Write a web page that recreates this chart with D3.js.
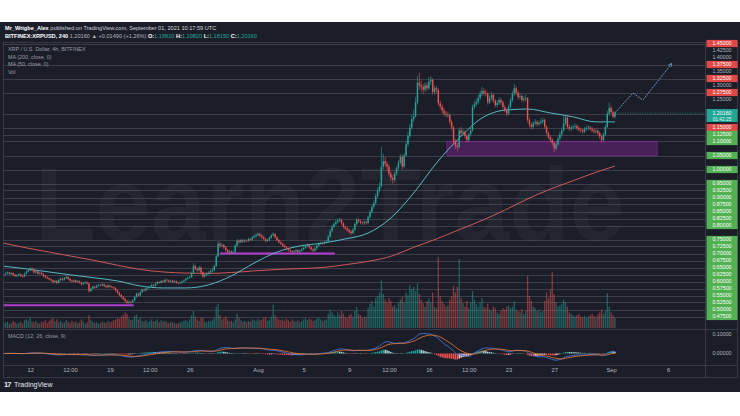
<!DOCTYPE html>
<html><head><meta charset="utf-8">
<script src="https://cdn.jsdelivr.net/npm/d3@7"></script>
<style>
html,body{margin:0;padding:0;background:#fff;}
svg{display:block;font-family:"Liberation Sans",Arial,sans-serif;}
</style></head><body>
<svg id="c" width="740" height="416"></svg>
<script>
// ---------- DATA ----------
const startTime = Date.UTC(2021,6,9,16);   // first 4h candle
const firstOpen = 0.622;
const closes = [
.625,.628,
.632,.627,.630,.624,.619,.622, .626,.620,.618,.628,.635,.640, .646,.641,.632,.636,.628,.631,
.627,.620,.615,.612,.608,.604, .598,.602,.595,.605,.610,.606, .612,.616,.609,.603,.600,.604,
.598,.601,.596,.590,.594,.597, .593,.566,.575,.582,.578,.585, .588,.586,.590,.584,.580,.586,
.582,.579,.576,.568,.560,.552, .545,.538,.530,.524,.528,.526, .532,.545,.556,.550,.562,.571,
.568,.575,.579,.582,.588,.585, .592,.598,.596,.602,.599,.606, .604,.600,.603,.598,.601,.596,
.594,.596,.600,.604,.610,.614, .616,.630,.655,.645,.640,.650, .632,.618,.624,.628,.632,.638,
.640,.655,.690,.735,.728,.730, .722,.712,.705,.708,.702,.706, .728,.745,.740,.748,.743,.746,
.745,.752,.749,.758,.762,.766,
.770,.764,.758,.752,.745,.748, .756,.765,.770,.758,.748,.740, .735,.728,.723,.718,.712,.708,
.705,.708,.712,.706,.710,.715, .720,.726,.730,.722,.715,.710, .718,.728,.735,.738,.736,.740,
.742,.760,.780,.795,.805,.812, .818,.820,.808,.795,.790,.784, .778,.773,.785,.805,.820,.815,
.810,.808,.812,.809,.830,.848, .866,.880,.905,.925,.940,1.010, 1.030,1.020,1.010,.985,.970,.963,
.985,1.005,1.025,1.045,1.010,1.050, 1.090,1.120,1.150,1.180,1.190,1.240, 1.310,1.300,1.295,1.285,1.300,1.290,
1.315,1.320,1.277,1.290,1.284,1.237, 1.225,1.210,1.200,1.195,1.195,1.170, 1.150,1.100,1.085,1.080,1.140,1.130,
1.134,1.120,1.105,1.125,1.140,1.223, 1.232,1.240,1.255,1.270,1.280,1.273, 1.270,1.240,1.255,1.266,1.245,1.230,
1.238,1.248,1.240,1.223,1.212,1.200, 1.225,1.248,1.270,1.290,1.275,1.259, 1.262,1.248,1.252,1.255,1.177,1.160,
1.152,1.165,1.170,1.162,1.166,1.172, 1.177,1.152,1.130,1.116,1.105,1.095, 1.075,1.090,1.110,1.125,1.140,1.165,
1.185,1.152,1.145,1.150,1.152,1.155, 1.148,1.142,1.140,1.135,1.145,1.148, 1.150,1.145,1.140,1.136,1.138,1.130,
1.118,1.105,1.125,1.152,1.200,1.220,
1.205,1.1881,1.2016];
const highs = [
.629,.633,
.636,.635,.634,.633,.627,.626, .630,.629,.624,.631,.639,.645, .652,.650,.644,.640,.639,.635,
.634,.630,.623,.619,.615,.611, .607,.606,.605,.609,.615,.614, .616,.621,.619,.612,.606,.608,
.607,.605,.604,.599,.598,.601, .600,.595,.579,.586,.585,.589, .592,.591,.594,.593,.587,.590,
.589,.585,.582,.579,.571,.563, .555,.548,.541,.533,.532,.531, .536,.549,.561,.560,.566,.575,
.575,.579,.583,.586,.592,.591, .596,.602,.601,.606,.605,.610, .610,.607,.607,.606,.605,.604,
.599,.600,.604,.608,.614,.618, .621,.636,.665,.660,.650,.656, .653,.636,.629,.633,.637,.643,
.646,.660,.696,.745,.742,.738, .734,.726,.716,.713,.711,.711, .733,.752,.750,.753,.752,.751,
.750,.757,.756,.763,.767,.772,
.776,.774,.768,.762,.756,.753, .761,.770,.776,.773,.762,.752, .744,.739,.732,.727,.722,.716,
.712,.712,.716,.715,.714,.719, .725,.731,.735,.733,.726,.719, .723,.733,.740,.743,.742,.745,
.748,.766,.786,.802,.812,.822, .826,.828,.824,.812,.800,.795, .789,.783,.790,.812,.828,.826,
.821,.816,.818,.817,.836,.856, .875,.890,.915,.936,.955,1.080, 1.055,1.045,1.030,1.018,.992,.980,
.992,1.012,1.034,1.055,1.052,1.060, 1.102,1.135,1.162,1.195,1.215,1.260, 1.335,1.345,1.318,1.305,1.312,1.310,
1.330,1.333,1.326,1.300,1.298,1.290, 1.246,1.233,1.220,1.210,1.206,1.200, 1.178,1.156,1.110,1.095,1.150,1.152,
1.146,1.140,1.126,1.132,1.150,1.232, 1.245,1.252,1.266,1.282,1.295,1.290, 1.284,1.276,1.264,1.276,1.272,1.252,
1.248,1.258,1.256,1.246,1.230,1.218, 1.232,1.256,1.282,1.305,1.298,1.282, 1.272,1.268,1.262,1.268,1.258,1.185,
1.168,1.172,1.180,1.176,1.174,1.182, 1.186,1.182,1.158,1.136,1.122,1.112, 1.100,1.098,1.118,1.134,1.150,1.190,
1.195,1.190,1.160,1.158,1.160,1.164, 1.162,1.156,1.150,1.146,1.152,1.156, 1.158,1.156,1.152,1.148,1.146,1.144,
1.136,1.124,1.132,1.160,1.210,1.240,
1.228,1.212,1.2082];
const lows = [
.619,.622,
.625,.624,.623,.620,.615,.616, .619,.617,.613,.616,.625,.632, .637,.636,.628,.629,.624,.625,
.623,.616,.611,.608,.604,.600, .592,.594,.590,.593,.602,.602, .603,.609,.605,.599,.596,.597,
.594,.595,.592,.586,.587,.591, .589,.560,.563,.572,.574,.576, .582,.582,.583,.580,.576,.577,
.578,.575,.572,.564,.556,.548, .540,.533,.524,.518,.520,.521, .522,.529,.542,.546,.547,.558,
.564,.565,.571,.576,.579,.581, .582,.589,.592,.593,.595,.596, .600,.596,.597,.594,.595,.592,
.590,.591,.593,.597,.601,.607, .610,.613,.627,.640,.634,.636, .625,.612,.614,.620,.624,.628,
.633,.636,.652,.686,.720,.722, .716,.706,.699,.700,.697,.698, .703,.724,.735,.736,.738,.739,
.740,.741,.744,.745,.754,.758,
.762,.759,.753,.747,.740,.741, .744,.752,.761,.753,.743,.735, .730,.723,.718,.713,.707,.703,
.700,.701,.704,.702,.702,.706, .711,.716,.722,.717,.710,.705, .706,.714,.724,.731,.731,.732,
.735,.738,.756,.775,.790,.800, .807,.812,.802,.789,.784,.778, .771,.766,.769,.781,.800,.809,
.804,.802,.803,.803,.805,.825, .843,.860,.875,.898,.918,.935, 1.000,1.008,.995,.975,.958,.950,
.955,.978,.998,1.018,1.000,1.005, 1.045,1.082,1.112,1.142,1.170,1.185, 1.232,1.285,1.278,1.270,1.276,1.280,
1.284,1.302,1.268,1.268,1.272,1.228, 1.215,1.200,1.190,1.186,1.185,1.160, 1.140,1.090,1.072,1.065,1.075,1.120,
1.122,1.110,1.095,1.098,1.118,1.135, 1.215,1.225,1.232,1.248,1.262,1.264, 1.260,1.232,1.234,1.248,1.238,1.222,
1.222,1.230,1.232,1.215,1.204,1.190, 1.195,1.218,1.240,1.262,1.266,1.250, 1.250,1.240,1.240,1.244,1.168,1.150,
1.142,1.145,1.158,1.155,1.156,1.160, 1.165,1.145,1.122,1.108,1.096,1.085, 1.062,1.068,1.084,1.104,1.118,1.135,
1.158,1.145,1.138,1.138,1.142,1.145, 1.140,1.135,1.132,1.128,1.130,1.138, 1.140,1.138,1.132,1.128,1.128,1.122,
1.110,1.096,1.100,1.120,1.148,1.192,
1.198,1.184,1.1815];
const volumes = [
8,7,
9,6,7,10,8,6, 7,9,6,11,12,10, 15,9,8,10,7,6, 9,8,11,7,10,12, 14,9,12,8,10,7, 8,11,9,7,10,8,
9,7,8,12,9,6, 8,18,11,9,7,8, 6,7,9,8,7,10, 8,9,11,12,14,13, 16,18,22,20,13,11, 12,17,19,12,14,10,
9,11,8,10,12,9, 10,12,8,11,9,10, 8,7,9,8,7,6, 7,8,9,10,11,9, 12,18,24,16,12,10, 14,15,9,8,10,9,
11,14,30,34,18,12, 14,16,12,9,10,8, 12,20,14,11,9,10, 8,10,9,12,11,10,
13,11,12,14,15,10, 12,16,33,18,14,12, 11,12,10,13,11,9, 12,10,9,11,8,10, 12,14,11,13,12,10,
11,13,15,12,10,11, 12,20,26,22,18,16, 22,18,24,20,16,14, 18,20,16,24,30,20, 18,14,16,15,28,34,
38,30,42,45,50,67, 48,40,36,42,38,30, 32,28,36,40,44,36, 50,46,61,55,58,52, 63,48,40,35,30,38,
42,36,50,30,28,100, 45,38,34,30,32,40, 45,60,50,58,97,42, 35,30,38,28,36,52, 40,34,30,36,42,30,
28,34,26,24,30,28, 22,20,24,28,26,30, 32,28,30,38,26,24, 22,26,20,24,73,45, 38,30,28,24,26,22,
24,38,50,42,55,79, 48,36,30,32,34,40, 36,30,22,20,18,16, 18,20,16,15,17,14, 16,18,20,17,15,19,
22,26,20,24,49,30,
22,18,14];
// moving averages, read every 12 candles (plus the last)
const maIndex = [0,12,24,36,48,60,72,84,96,108,120,132,144,156,168,180,192,204,216,228,240,252,264,276,288,300,312,322];
const ma200 = [.737,.720,.705,.690,.675,.658,.643,.634,.630,.629,.632,.638,.643,.646,.650,.660,.672,.690,.722,.752,.785,.818,.855,.895,.930,.960,.990,1.012];
const ma50  = [.655,.645,.634,.623,.613,.602,.584,.577,.577,.588,.620,.666,.705,.727,.737,.752,.773,.827,.916,1.023,1.112,1.184,1.212,1.216,1.202,1.188,1.170,1.170];
// price-axis level labels (horizontal lines)
const levelValues = [1.45,1.425,1.40,1.375,1.35,1.325,1.30,1.275,1.25,1.15,1.125,1.10,1.05,1.00,
  0.95,0.925,0.90,0.875,0.85,0.825,0.80,
  0.75,0.725,0.70,0.675,0.65,0.625,0.60,0.575,0.55,0.525,0.50,0.475];
const levelKinds = ["red","plain","plain","red","plain","red","plain","red","plain","red","green","green","green","green",
  "green","green","green","green","green","green","green",
  "green","green","green","green","green","green","green","green","green","green","green","green"];
const lastPrice = 1.2016;
const countdown = "01:42:25";
// drawn zones
const zoneTimes = [Date.UTC(2021,7,17,14), Date.UTC(2021,8,5,1)];
const zonePrices = [1.05, 1.10];
const supportTimes = [[Date.UTC(2021,6,28,16), Date.UTC(2021,7,7,18)], [Date.UTC(2021,6,9,14), Date.UTC(2021,6,21,2)]];
const supportPrices = [0.70, 0.515];
// forecast path
const fcTimes = [Date.UTC(2021,8,1,8), Date.UTC(2021,8,2,22), Date.UTC(2021,8,3,19), Date.UTC(2021,8,6,7)];
const fcPrices = [1.2016, 1.273, 1.248, 1.377];
// time axis
const tickTimes = [Date.UTC(2021,6,12), Date.UTC(2021,6,15,12), Date.UTC(2021,6,19), Date.UTC(2021,6,22,12), Date.UTC(2021,6,26),
  Date.UTC(2021,7,1), Date.UTC(2021,7,5), Date.UTC(2021,7,9), Date.UTC(2021,7,12,12), Date.UTC(2021,7,16), Date.UTC(2021,7,19,12),
  Date.UTC(2021,7,23), Date.UTC(2021,7,27), Date.UTC(2021,8,1), Date.UTC(2021,8,6)];
const tickLabels = ["12","12:00","19","12:00","26","Aug","5","9","12:00","16","12:00","23","27","Sep","6"];
const macdTicks = [0.1, 0];

// ---------- LAYOUT ----------
const svg = d3.select("#c");
const W = 740;
const pane = {l:3, r:705, t:42, b:329};
const macdPane = {t:329, b:365};
const H4 = 4*3600*1000;
const tOf = i => new Date(startTime + i*H4);
const opens = closes.map((c,i)=> i===0 ? firstOpen : closes[i-1]);

const x = d3.scaleUtc().domain([new Date(Date.UTC(2021,7,1)), new Date(Date.UTC(2021,8,1))]).range([258, 611.1]);
const y = d3.scaleLinear().domain([1.0, 1.45]).range([169.5, 43.5]);
const yv = d3.scaleLinear().domain([0, 100]).range([328, 257]);
const ym = d3.scaleLinear().domain([0, 0.1]).range([353.5, 334]);

const UP = "#26a69a", DN = "#ef5350";

// background
svg.append("rect").attr("x",0).attr("y",22).attr("width",W).attr("height",370).attr("fill","#1b1e29");

const defs = svg.append("defs");
defs.append("clipPath").attr("id","pc").append("rect").attr("x",pane.l).attr("y",pane.t).attr("width",pane.r-pane.l).attr("height",pane.b-pane.t);
defs.append("clipPath").attr("id","mc").append("rect").attr("x",pane.l).attr("y",macdPane.t).attr("width",pane.r-pane.l).attr("height",macdPane.b-macdPane.t);
defs.append("marker").attr("id","arr").attr("viewBox","0 0 10 10").attr("refX",8).attr("refY",5)
  .attr("markerWidth",5).attr("markerHeight",5).attr("orient","auto")
  .append("path").attr("d","M0,0 L10,5 L0,10").attr("fill","none").attr("stroke","#7fb2e5").attr("stroke-width",1.5);

const main = svg.append("g").attr("clip-path","url(#pc)");

// watermark
main.append("text").attr("x",330).attr("y",240).attr("text-anchor","middle")
  .attr("font-size",104).attr("font-weight","bold").attr("textLength",590).attr("lengthAdjust","spacingAndGlyphs")
  .attr("fill","#ffffff").attr("fill-opacity",0.035).text("Learn2Trade");

// horizontal level lines
const lineLevels = levelValues.filter((v,i)=>levelKinds[i]!=="plain").concat([1.20]);
main.selectAll("line.lvl").data(lineLevels).join("line").attr("class","lvl")
  .attr("x1",pane.l).attr("x2",pane.r).attr("y1",d=>Math.round(y(d))+0.5).attr("y2",d=>Math.round(y(d))+0.5)
  .attr("stroke","#8a8d96").attr("stroke-opacity",0.38).attr("stroke-width",0.8);

// zone rectangle
main.append("rect").attr("x",x(new Date(zoneTimes[0]))).attr("width",x(new Date(zoneTimes[1]))-x(new Date(zoneTimes[0])))
  .attr("y",y(zonePrices[1])).attr("height",y(zonePrices[0])-y(zonePrices[1]))
  .attr("fill","#9c27b0").attr("fill-opacity",0.35).attr("stroke","#9c27b0").attr("stroke-opacity",0.7).attr("stroke-width",0.8);
// support lines
supportTimes.forEach((tt,k)=>{
  main.append("line").attr("x1",x(new Date(tt[0]))).attr("x2",x(new Date(tt[1])))
    .attr("y1",y(supportPrices[k])).attr("y2",y(supportPrices[k]))
    .attr("stroke","#b43ccf").attr("stroke-width",2);
});

// volume
main.selectAll("rect.vol").data(volumes).join("rect").attr("class","vol")
  .attr("x",(d,i)=>x(tOf(i))-0.65).attr("width",1.3)
  .attr("y",d=>yv(d)).attr("height",d=>yv(0)-yv(d))
  .attr("fill",(d,i)=>closes[i]>=opens[i]?UP:DN).attr("fill-opacity",0.5);

// moving averages
const maLine = arr => d3.line().curve(d3.curveMonotoneX).x((d,k)=>x(tOf(maIndex[k]))).y(d=>y(d))(arr);
main.append("path").attr("d",maLine(ma200)).attr("fill","none").attr("stroke","#e35d5b").attr("stroke-width",0.9);
main.append("path").attr("d",maLine(ma50)).attr("fill","none").attr("stroke","#5cc8d4").attr("stroke-width",0.9);

// candles
const cg = main.append("g");
cg.selectAll("line.wick").data(closes).join("line").attr("class","wick")
  .attr("x1",(d,i)=>x(tOf(i))).attr("x2",(d,i)=>x(tOf(i)))
  .attr("y1",(d,i)=>y(highs[i])).attr("y2",(d,i)=>y(lows[i]))
  .attr("stroke",(d,i)=>d>=opens[i]?UP:DN).attr("stroke-width",0.6);
cg.selectAll("rect.body").data(closes).join("rect").attr("class","body")
  .attr("x",(d,i)=>x(tOf(i))-0.7).attr("width",1.4)
  .attr("y",(d,i)=>y(Math.max(d,opens[i])))
  .attr("height",(d,i)=>Math.max(0.7,Math.abs(y(d)-y(opens[i]))))
  .attr("fill",(d,i)=>d>=opens[i]?UP:DN);

// forecast path
main.append("path").attr("d", d3.line().x((d,k)=>x(new Date(fcTimes[k]))).y(d=>y(d))(fcPrices))
  .attr("fill","none").attr("stroke","#7fb2e5").attr("stroke-width",0.8).attr("stroke-dasharray","2,1")
  .attr("marker-end","url(#arr)");

// last price line (dotted)
main.append("line").attr("x1",x(tOf(closes.length-1))).attr("x2",pane.r).attr("y1",y(lastPrice)).attr("y2",y(lastPrice))
  .attr("stroke","#26a69a").attr("stroke-width",0.6).attr("stroke-dasharray","1,1.5");

// ---------- MACD ----------
function ema(v,n){const k=2/(n+1);const out=[v[0]];for(let i=1;i<v.length;i++)out.push(v[i]*k+out[i-1]*(1-k));return out;}
const e12 = ema(closes,12), e26 = ema(closes,26);
const macd = e12.map((v,i)=>v-e26[i]);
const sig = ema(macd,9);
const hist = macd.map((v,i)=>v-sig[i]);
const mg = svg.append("g").attr("clip-path","url(#mc)");
mg.selectAll("rect.h").data(hist).join("rect").attr("class","h")
  .attr("x",(d,i)=>x(tOf(i))-0.7).attr("width",1.4)
  .attr("y",d=>Math.min(ym(d),ym(0))).attr("height",d=>Math.max(0.4,Math.abs(ym(d)-ym(0))))
  .attr("fill",(d,i)=>{const p=i>0?hist[i-1]:d; return d>=0?(d>=p?"#26a69a":"#b2dfdb"):(d<=p?"#ff5252":"#ffcdd2");});
const lineM = d3.line().x((d,i)=>x(tOf(i))).y(d=>ym(d));
mg.append("path").attr("d",lineM(macd)).attr("fill","none").attr("stroke","#4a7bf0").attr("stroke-width",0.8);
mg.append("path").attr("d",lineM(sig)).attr("fill","none").attr("stroke","#f57c2a").attr("stroke-width",0.8);

// ---------- FRAME ----------
const fr = svg.append("g").attr("stroke","#3d414d").attr("stroke-width",0.8).attr("fill","none");
fr.append("rect").attr("x",pane.l+0.5).attr("y",pane.t+0.5).attr("width",W-3-pane.l).attr("height",377-pane.t);
fr.append("line").attr("x1",pane.l).attr("x2",W-3).attr("y1",pane.b+0.5).attr("y2",pane.b+0.5);
fr.append("line").attr("x1",pane.l).attr("x2",W-3).attr("y1",macdPane.b+0.5).attr("y2",macdPane.b+0.5);
fr.append("line").attr("x1",pane.r+0.5).attr("x2",pane.r+0.5).attr("y1",pane.t).attr("y2",377.5);

// ---------- PRICE AXIS LABELS ----------
const kindFill = {red:"#df4a47", green:"#52b152"};
const pa = svg.append("g").attr("font-size",5.3);
levelValues.forEach((v,i)=>{
  const k = levelKinds[i], cy = y(v);
  if(k!=="plain"){
    pa.append("rect").attr("x",706.5).attr("y",cy-3.6).attr("width",31).attr("height",7.2).attr("fill",kindFill[k]);
  }
  pa.append("text").attr("x",722).attr("y",cy+1.9).attr("text-anchor","middle")
    .attr("fill",k==="plain"?"#b2b5be":"#ffffff").text(v.toFixed(5));
});
// last price label
const ly = y(lastPrice);
pa.append("rect").attr("x",706.5).attr("y",ly-4).attr("width",31).attr("height",13).attr("fill","#22a594");
pa.append("text").attr("x",722).attr("y",ly+1.8).attr("text-anchor","middle").attr("fill","#fff").text(lastPrice.toFixed(5));
pa.append("text").attr("x",722).attr("y",ly+7.6).attr("text-anchor","middle").attr("fill","#dff5f1").attr("font-size",4.8).text(countdown);

// MACD axis labels
svg.append("g").selectAll("text.mt").data(macdTicks).join("text").attr("class","mt")
  .attr("x",722).attr("y",d=>ym(d)+1.9).attr("text-anchor","middle")
  .attr("font-size",5.3).attr("fill","#b2b5be").text(d=>d.toFixed(5));

// ---------- TIME AXIS ----------
const tax = svg.append("g").attr("transform","translate(0,366)")
  .call(d3.axisBottom(x).tickValues(tickTimes.map(t=>new Date(t))).tickFormat((d,i)=>tickLabels[i]).tickSize(0));
tax.select(".domain").remove();
tax.selectAll("text").attr("fill","#b2b5be").attr("font-size",5.8).attr("dy","0.55em").attr("font-family","Liberation Sans, Arial, sans-serif");

// ---------- HEADER ----------
const hd = svg.append("g").attr("font-size",5.6).attr("fill","#d1d4dc");
const h1 = hd.append("text").attr("x",5).attr("y",29.5);
h1.append("tspan").attr("font-weight","bold").attr("fill","#ffffff").text("Mr_Wrigbe_Alex");
h1.append("tspan").text(" published on TradingView.com, September 01, 2021 10:17:59 UTC");
const n = closes.length-1;
const h2 = hd.append("text").attr("x",5).attr("y",37.5);
h2.append("tspan").attr("font-weight","bold").attr("fill","#ffffff").text("BITFINEX:XRPUSD, 240 ");
h2.append("tspan").attr("fill","#b2b5be").text(lastPrice.toFixed(5)+" ▲ +0.01490 (+1.26%) ");
[["O:",opens[n]],["H:",highs[n]],["L:",lows[n]],["C:",closes[n]]].forEach(([lab,val])=>{
  h2.append("tspan").attr("font-weight","bold").attr("fill","#ffffff").text(lab);
  h2.append("tspan").attr("fill","#26a69a").text(val.toFixed(5)+" ");
});

// legend
const lg = svg.append("g").attr("font-size",5.4).attr("fill","#9a9da6");
["XRP / U.S. Dollar, 4h, BITFINEX","MA (200, close, 0)","MA (50, close, 0)","Vol"].forEach((s,i)=>{
  lg.append("text").attr("x",8).attr("y",51+i*7.6).text(s);
});
lg.append("text").attr("x",8).attr("y",337.5).text("MACD (12, 26, close, 9)");

// logo
const lo = svg.append("g").attr("fill","#e6e8ee");
lo.append("text").attr("x",4).attr("y",387).attr("font-size",7.5).attr("font-weight","bold").attr("letter-spacing",-0.8).text("17");
lo.append("text").attr("x",14).attr("y",387).attr("font-size",7).text("TradingView");
</script>
</body></html>
